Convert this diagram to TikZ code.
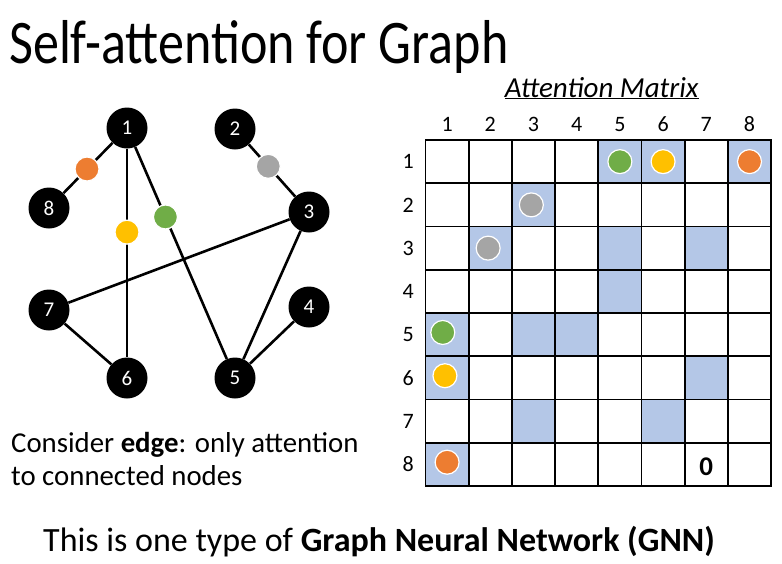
\documentclass[tikz,border=0pt]{standalone}
\usepackage{fontspec}
\setmainfont{Carlito}
\newfontfamily\titlefont{Carlito}[FakeStretch=0.84]
\usetikzlibrary{positioning}
\definecolor{myorange}{RGB}{237,125,49}
\definecolor{myyellow}{RGB}{255,192,0}
\definecolor{mygreen}{RGB}{112,173,71}
\definecolor{mygray}{RGB}{165,165,165}
\definecolor{myblue}{RGB}{180,199,231}
\tikzstyle{vertex}=[circle,fill=black,text=white,minimum size=41pt,inner sep=0pt,font=\fontsize{21}{24}\selectfont]
\tikzstyle{dot}=[circle,draw=white,line width=1.2pt,minimum size=24pt,inner sep=0pt]
\tikzstyle{edge}=[line width=2.6pt]
\tikzstyle{lbl}=[font=\fontsize{22}{24}\selectfont]
\tikzstyle{txt}=[anchor=base west,inner sep=0pt]

\begin{document}
\begin{tikzpicture}[x=1pt,y=-1pt]
      \useasboundingbox (0,0) rectangle (782,563);
      \node (title) at (9,63) [txt,font=\titlefont\fontsize{62}{70}\selectfont] {Self-attention for Graph};

      % graph
      \node (n1) at (127,128) [vertex] {1};
      \node (n2) at (235,129) [vertex] {2};
      \node (n3) at (309,212) [vertex] {3};
      \node (n4) at (309,307) [vertex] {4};
      \node (n5) at (235,378) [vertex] {5};
      \node (n6) at (127,378) [vertex] {6};
      \node (n7) at (49,310) [vertex] {7};
      \node (n8) at (49,208) [vertex] {8};

      \draw[edge] (n3) -- (n7);
      \draw[edge] (n3) -- (n5);
      \draw[edge] (n4) -- (n5);
      \draw[edge] (n7) -- (n6);
      \draw[edge] (n1) -- node[dot,fill=myorange,pos=0.52] (d18) {} (n8);
      \draw[edge] (n1) -- node[dot,fill=myyellow,pos=0.40] (d16) {} (n6);
      \draw[edge] (n1) -- node[dot,fill=mygreen,pos=0.33] (d15) {} (n5);
      \draw[edge] (n2) -- node[dot,fill=mygray,pos=0.42] (d23) {} (n3);

      \node (note1) at (11,452) [txt,font=\fontsize{28.8}{32}\selectfont] {Consider \textbf{edge}: only attention};
      \node (note2) at (11,485) [txt,font=\fontsize{28.8}{32}\selectfont] {to connected nodes};
      \node (gnn) at (43,551) [txt,font=\fontsize{34}{38}\selectfont] {This is one type of \textbf{Graph Neural Network (GNN)}};

      % attention matrix
      \begin{scope}[shift={(425.5,140)},x=43.2pt,y=-43.25pt]
        \foreach \r/\c in {1/5,1/6,1/8,2/3,3/2,3/5,3/7,4/5,5/1,5/3,5/4,6/1,6/7,7/3,7/6,8/1}
          \fill[myblue] (\c-1,\r-1) rectangle (\c,\r);
        \foreach \i in {0,...,8} {
          \draw[line width=1.8pt,line cap=rect] (\i,0) -- (\i,8);
          \draw[line width=1.8pt,line cap=rect] (0,\i) -- (8,\i);
        }
        \foreach \i in {1,...,8} {
          \node[lbl] (col\i) at (\i-0.5,-0.36) {\i};
          \node[lbl] (row\i) at (-0.4,\i-0.5) {\i};
        }
        \node (atitle) at (4.08,-1.2) [font=\itshape\fontsize{29}{32}\selectfont] {\underline{Attention Matrix}};

        \node (m15) at (4.5,0.5) [dot,fill=mygreen] {};
        \node (m16) at (5.5,0.5) [dot,fill=myyellow] {};
        \node (m18) at (7.5,0.5) [dot,fill=myorange] {};
        \node (m23) at (2.45,1.5) [dot,fill=mygray] {};
        \node (m32) at (1.45,2.5) [dot,fill=mygray] {};
        \node (m51) at (0.4,4.45) [dot,fill=mygreen] {};
        \node (m61) at (0.45,5.45) [dot,fill=myyellow] {};
        \node (m81) at (0.5,7.45) [dot,fill=myorange] {};
        \node (zero) at (6.5,7.55) [font=\bfseries\fontsize{27}{30}\selectfont] {0};
      \end{scope}
\end{tikzpicture}
\end{document}
